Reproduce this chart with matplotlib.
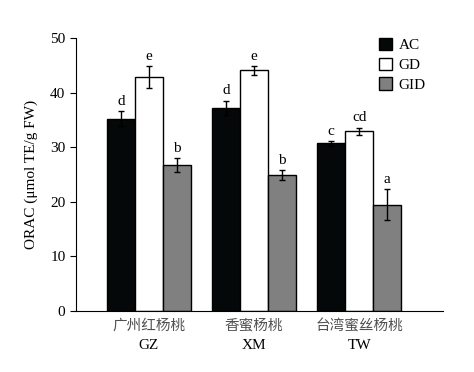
import numpy as np
import matplotlib.pyplot as plt
import matplotlib.transforms as mtransforms

plt.rcParams['font.family'] = ['Liberation Serif', 'Noto Sans CJK SC']

cultivos = ['广州红杨桃', '香蜜杨桃', '台湾蜜丝杨桃']
codigos = ['GZ', 'XM', 'TW']
series = ['AC', 'GD', 'GID']
ac = [35.2, 37.2, 30.7]
gd = [42.9, 44.1, 32.9]
gid = [26.7, 24.9, 19.5]
err_ac = [1.4, 1.3, 0.4]
err_gd = [2.0, 0.8, 0.7]
err_gid = [1.3, 0.9, 2.8]
letras_ac = ['d', 'd', 'c']
letras_gd = ['e', 'e', 'cd']
letras_gid = ['b', 'b', 'a']

colores = ['#050808', 'white', '#808080']

fig = plt.figure(figsize=(4.74, 3.72), dpi=100)
ax = fig.add_axes([0.160, 0.164, 0.775, 0.734])

x = np.arange(len(cultivos))
ancho = 0.267
datos = [ac, gd, gid]
errores = [err_ac, err_gd, err_gid]
letras = [letras_ac, letras_gd, letras_gid]

for i in range(3):
    pos = x + (i - 1) * ancho
    ax.bar(pos, datos[i], ancho, color=colores[i], edgecolor='black',
           linewidth=1.0, label=series[i], zorder=2)
    ax.errorbar(pos, datos[i], yerr=errores[i], fmt='none', ecolor='black',
                elinewidth=1.0, capsize=2.5, capthick=1.0, zorder=3)
    for p, v, e, l in zip(pos, datos[i], errores[i], letras[i]):
        ax.text(p, v + e + 0.6, l, ha='center', va='bottom', fontsize=11)

ax.set_xlim(-0.695, 2.8)
ax.set_ylim(0, 50)
ax.set_yticks(range(0, 51, 10))
ax.set_xticks(x)
ax.set_xticklabels(cultivos, fontsize=10.5, color='#505050')
ax.tick_params(axis='x', direction='in', length=4, pad=6)
ax.tick_params(axis='y', direction='out', length=4, labelsize=11)
trans = mtransforms.blended_transform_factory(ax.transData, ax.transAxes)
for xi, c in zip(x, codigos):
    ax.text(xi, -0.103, c, transform=trans, ha='center', va='top', fontsize=11)
ax.spines['top'].set_visible(False)
ax.spines['right'].set_visible(False)
ax.set_ylabel('ORAC (μmol TE/g FW)', fontsize=11, labelpad=9)

ax.legend(loc='upper left', bbox_to_anchor=(0.826, 1.0), frameon=False,
          fontsize=11, handlelength=0.85, handleheight=0.85,
          handletextpad=0.4, labelspacing=0.35, borderpad=0, borderaxespad=0)

fig.savefig('out.png', dpi=100)
